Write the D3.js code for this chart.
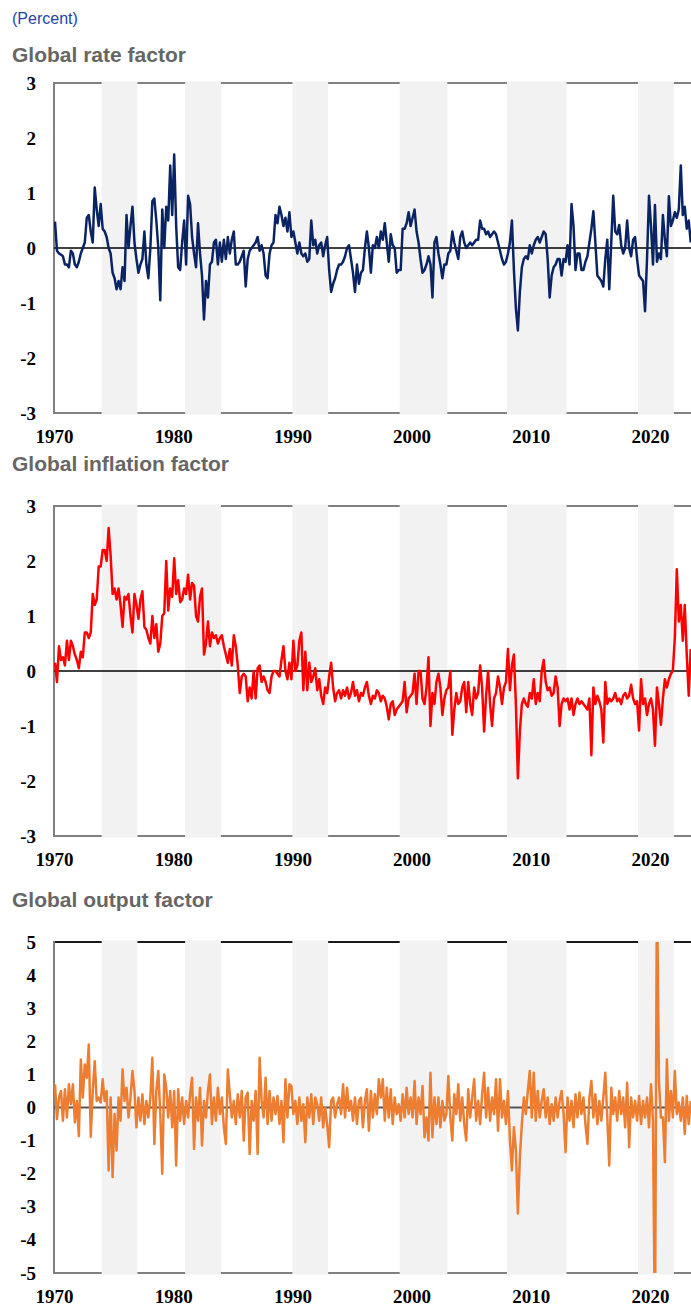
<!DOCTYPE html>
<html><head><meta charset="utf-8">
<script src="https://cdn.jsdelivr.net/npm/d3@7"></script>
<style>body{margin:0;background:#fff}svg{display:block}</style>
</head><body><svg id="c" width="691" height="1306"></svg>
<script>
// bimonthly observations, starting Jan-Feb 1970 (six per year)
const rateValues = [
 0.48,-0.05,-0.1,-0.12,-0.15,-0.3,
 -0.3,-0.35,-0.05,-0.1,-0.3,-0.35,
 -0.25,-0.1,0.0,0.1,0.55,0.6,
 0.3,0.1,1.1,0.7,0.4,0.8,
 0.35,0.3,0.2,0.0,-0.1,-0.45,
 -0.55,-0.75,-0.6,-0.75,-0.35,-0.6,
 0.6,0.0,0.4,0.75,0.1,-0.2,
 -0.45,-0.3,-0.2,0.3,-0.3,-0.55,
 0.0,0.85,0.9,0.5,0.0,-0.95,
 0.7,0.0,0.75,0.5,1.5,0.6,
 1.7,0.4,-0.35,-0.4,0.1,0.5,
 -0.3,0.95,0.8,0.2,-0.1,-0.35,
 0.45,-0.1,-0.5,-1.3,-0.6,-0.9,
 -0.3,-0.25,0.1,0.15,-0.3,0.1,
 -0.25,0.15,-0.2,0.2,-0.1,0.15,
 0.3,-0.3,-0.3,-0.25,-0.15,-0.05,
 -0.7,-0.2,-0.05,0.0,0.05,0.1,
 0.2,-0.05,0.05,-0.1,-0.5,-0.55,
 -0.1,0.05,0.1,0.6,0.45,0.75,
 0.6,0.4,0.55,0.3,0.65,0.2,
 0.3,0.1,-0.1,0.1,-0.1,-0.15,
 -0.1,-0.25,-0.2,0.5,0.05,0.15,
 -0.1,0.05,0.1,-0.15,0.05,0.2,
 -0.4,-0.8,-0.65,-0.55,-0.4,-0.3,
 -0.3,-0.25,-0.15,0.0,0.05,-0.2,
 -0.45,-0.8,-0.3,-0.65,-0.45,-0.4,
 0.0,0.3,0.0,-0.45,0.05,0.0,
 0.2,0.0,0.3,0.15,0.45,0.1,
 -0.25,0.25,0.05,0.0,-0.45,-0.4,
 -0.4,0.35,0.35,0.45,0.65,0.4,
 0.55,0.7,0.3,0.1,-0.2,-0.45,
 -0.4,-0.3,-0.15,-0.3,-0.9,0.1,
 0.2,-0.1,-0.3,-0.55,-0.3,-0.3,
 -0.1,-0.05,0.3,0.1,-0.05,-0.2,
 0.2,0.3,0.1,0.0,0.05,0.1,
 0.05,0.1,0.15,0.15,0.5,0.35,
 0.35,0.25,0.3,0.2,0.25,0.3,
 0.25,0.1,-0.05,-0.2,-0.3,-0.25,
 -0.1,0.1,0.5,-0.4,-1.1,-1.5,
 -0.8,-0.35,-0.2,-0.15,-0.2,0.05,
 -0.1,0.05,0.15,0.2,0.1,0.2,
 0.3,0.25,-0.2,-0.9,-0.5,-0.35,
 -0.3,-0.2,-0.2,-0.5,-0.2,-0.25,
 0.05,-0.3,0.8,0.4,-0.4,-0.1,
 -0.1,-0.4,-0.4,-0.25,-0.15,0.1,
 0.35,0.67,0.1,-0.5,-0.55,-0.6,
 -0.7,-0.2,0.15,-0.75,0.1,0.95,
 0.3,0.25,0.42,0.05,-0.1,0.0,
 0.5,0.0,-0.15,0.15,0.2,-0.2,
 -0.5,-0.55,-0.6,-1.15,-0.2,0.95,
 0.4,-0.3,0.78,-0.25,-0.1,-0.2,
 0.6,0.15,-0.15,0.94,0.4,0.5,
 0.65,0.55,0.7,1.5,0.6,0.75,
 0.35,0.5,0.1
];
const inflationValues = [
 0.15,-0.2,0.45,0.2,0.25,0.1,
 0.55,0.2,0.55,0.45,0.3,0.2,
 0.05,0.35,0.25,0.7,0.7,0.6,
 0.7,1.4,1.2,1.3,1.9,1.9,
 2.2,2.2,2.0,2.6,2.1,1.4,
 1.5,1.3,1.5,1.2,0.8,1.35,
 1.3,1.4,1.0,0.7,1.4,1.2,
 0.95,1.3,1.45,0.8,0.75,0.6,
 0.5,1.0,0.6,0.85,0.35,0.5,
 1.0,1.05,2.0,1.1,1.5,1.35,
 2.05,1.4,1.65,1.25,1.3,1.5,
 1.4,1.75,1.3,1.6,1.55,1.0,
 0.9,1.35,1.5,0.3,0.5,0.9,
 0.45,0.7,0.6,0.65,0.5,0.6,
 0.65,0.45,0.3,0.15,0.4,0.1,
 0.65,0.45,0.1,-0.4,-0.1,-0.05,
 -0.1,-0.55,-0.3,-0.5,0.0,-0.5,
 0.05,0.1,-0.2,-0.1,-0.2,-0.35,
 -0.4,-0.1,0.0,0.0,-0.05,-0.1,
 0.2,0.45,0.0,-0.15,0.15,-0.15,
 0.55,0.0,0.1,0.55,0.7,-0.35,
 0.35,-0.35,0.15,-0.2,-0.1,0.05,
 -0.35,-0.15,-0.45,-0.6,-0.3,-0.4,
 -0.1,0.15,-0.3,-0.55,-0.4,-0.35,
 -0.5,-0.35,-0.45,-0.3,-0.5,-0.4,
 -0.2,-0.45,-0.35,-0.55,-0.4,-0.45,
 -0.3,-0.2,-0.45,-0.6,-0.45,-0.5,
 -0.35,-0.4,-0.55,-0.45,-0.5,-0.65,
 -0.88,-0.6,-0.55,-0.8,-0.7,-0.65,
 -0.6,-0.55,-0.2,-0.75,-0.5,-0.45,
 -0.4,-0.05,-0.6,0.0,0.0,-0.5,
 -0.6,-0.3,0.25,-1.0,-0.4,-0.6,
 -0.2,-0.05,-0.3,-0.8,-0.5,-0.35,
 -0.3,0.0,-1.16,-0.7,-0.4,-0.6,
 -0.55,-0.3,-0.2,-0.75,-0.2,-0.6,
 -0.8,-0.3,-0.5,-0.4,0.1,-0.3,
 -1.1,-0.45,0.0,-0.6,-1.0,-0.5,
 -0.4,-0.1,-0.3,-0.6,-0.3,-0.2,
 0.4,-0.35,0.1,0.3,-0.6,-1.95,
 -1.1,-0.6,-0.5,-0.6,-0.65,-0.4,
 -0.5,-0.15,-0.6,-0.4,-0.55,0.0,
 0.2,-0.2,-0.35,-0.3,-0.45,-0.4,
 -0.1,-0.3,-1.0,-0.6,-0.5,-0.55,
 -0.5,-0.7,-0.5,-0.8,-0.6,-0.5,
 -0.6,-0.55,-0.6,-0.65,-0.7,-0.5,
 -1.53,-0.3,-0.6,-0.45,-0.55,-0.7,
 -1.3,-0.2,-0.6,-0.5,-0.55,-0.5,
 -0.4,-0.55,-0.5,-0.6,-0.45,-0.4,
 -0.5,-0.45,-0.25,-0.5,-0.6,-0.55,
 -1.08,-0.15,-0.6,-0.5,-0.8,-0.6,
 -0.5,-0.7,-1.36,-0.3,-0.6,-0.98,
 -0.5,-0.15,-0.3,-0.15,-0.05,0.0,
 0.6,1.85,0.9,1.2,0.55,1.2,
 0.3,-0.45,0.4
];
const outputValues = [
 0.7,-0.35,0.3,0.5,-0.4,0.55,
 -0.3,0.7,0.1,0.7,-0.45,0.2,
 -0.86,1.45,0.3,1.3,0.9,1.9,
 -0.88,0.5,1.4,0.2,0.3,0.15,
 0.85,0.2,0.5,-1.9,0.3,-2.1,
 -0.2,-1.3,0.3,-0.4,1.15,0.2,
 0.6,-0.3,0.3,1.1,0.5,-0.6,
 0.3,-0.4,0.4,-0.5,0.2,-0.3,
 0.3,1.5,-1.1,0.5,1.1,-0.2,
 -2.0,1.0,0.6,-0.3,0.5,-0.6,
 0.5,-1.75,0.55,-0.4,0.3,-0.5,
 0.2,-0.3,0.4,0.9,-1.25,0.3,
 -0.4,0.6,-1.15,0.2,-0.3,0.5,
 1.0,-0.5,0.3,-0.4,0.6,-0.2,
 0.3,-0.6,-1.1,1.15,0.4,-0.3,
 0.2,-0.5,0.4,-0.3,0.5,-1.0,
 0.3,0.45,-1.4,0.2,-0.4,0.5,
 -1.4,1.5,0.2,-0.3,0.9,-0.5,
 0.5,-0.4,0.3,-0.2,0.35,-0.5,
 0.2,-1.05,0.85,-0.3,0.7,0.65,
 -0.2,0.2,-0.5,0.3,-0.4,0.1,
 -1.05,0.3,-0.3,0.4,-0.5,0.3,
 0.1,-0.4,0.3,-0.6,0.0,-0.5,
 -1.2,0.2,0.3,-0.3,0.1,0.3,
 -0.2,0.7,-0.3,0.6,-0.1,0.2,
 -0.4,0.3,-0.5,0.2,0.3,-0.6,
 0.2,0.55,-0.7,0.5,-0.3,0.4,
 -0.2,0.85,0.3,0.85,-0.4,0.6,
 -0.3,0.55,-0.5,0.3,-0.2,0.1,
 -0.4,0.4,-0.3,0.6,-0.2,0.3,
 -0.3,0.8,-0.5,0.3,-0.2,0.65,
 -0.9,-0.3,-1.0,1.05,-0.9,0.3,
 -0.5,0.3,-0.6,0.2,-0.4,-0.2,
 0.95,-0.3,-1.0,0.4,-0.2,0.7,
 -0.4,0.3,-0.5,-1.0,0.55,-0.3,
 0.3,0.85,-0.4,0.2,-0.5,0.4,
 1.05,-0.3,0.6,-0.4,0.3,-0.2,
 0.85,-0.7,0.85,-0.3,0.2,-0.5,
 0.5,-1.0,-1.9,-0.6,-1.3,-3.2,
 -1.5,-0.5,0.3,-0.2,0.5,1.1,
 -0.3,1.05,-0.4,0.5,-0.3,0.2,
 0.55,-0.3,0.3,-0.5,0.1,-0.4,
 0.3,-0.3,0.2,0.5,-0.2,-1.35,
 0.3,-0.4,0.2,-0.6,0.4,-0.3,
 0.45,-0.2,0.3,-0.5,-1.1,0.3,
 0.8,-0.3,0.4,-0.5,0.2,-0.4,
 0.3,1.05,-0.3,-1.75,0.6,-0.2,
 0.3,-0.4,0.5,-0.2,0.3,-0.6,
 0.75,-1.2,0.3,-0.3,0.2,-0.4,
 0.35,-0.5,0.2,-0.3,0.3,-0.6,
 0.7,-0.4,-7.0,7.0,0.8,-0.3,
 -0.3,-1.65,1.45,-0.4,0.5,-0.3,
 1.1,-0.2,0.15,-0.4,0.3,-0.8,
 0.35,-0.5,0.2
];
const recessionPeriods = [[1974,1977],[1981,1984],[1990,1993],[1999,2003],[2008,2013],[2019,2022]];
const xTickYears = [1970,1980,1990,2000,2010,2020];
const rateTicks = [-3,-2,-1,0,1,2,3];
const inflationTicks = [-3,-2,-1,0,1,2,3];
const outputTicks = [-5,-4,-3,-2,-1,0,1,2,3,4,5];
const panelTitles = ["Global rate factor","Global inflation factor","Global output factor"];
const unitLabel = "(Percent)";

const svg = d3.select('#c');
svg.append('text').attr('x',12).attr('y',24)
  .style('font-family','"Liberation Sans", Arial, sans-serif').style('font-size','16px')
  .attr('fill','#2346a8').text(unitLabel);

const x = d3.scaleLinear().domain([1970, 2023.44]).range([54, 691]);
const toSeries = vals => vals.map((v,i)=>({t:1970+(i+0.5)/6, v}));

const panels = [
  {title:panelTitles[0], vals:rateValues, color:'#0a2463', domain:[-3,3], ticks:rateTicks, top:83, bottom:413, titleY:62, topColor:'#808080', zeroColor:'#000', zeroW:1.3},
  {title:panelTitles[1], vals:inflationValues, color:'#ff0000', domain:[-3,3], ticks:inflationTicks, top:506, bottom:836, titleY:471, topColor:'#808080', zeroColor:'#000', zeroW:1.3},
  {title:panelTitles[2], vals:outputValues, color:'#ed7d31', domain:[-5,5], ticks:outputTicks, top:942, bottom:1273, titleY:907, topColor:'#1a1a1a', zeroColor:'#555', zeroW:1.8}
];

panels.forEach((p,k)=>{
  const y = d3.scaleLinear().domain(p.domain).range([p.bottom, p.top]);
  const g = svg.append('g');
  g.append('text').attr('x',12).attr('y',p.titleY)
    .style('font-family','"Liberation Sans", Arial, sans-serif').style('font-size','21px').style('font-weight','bold')
    .attr('fill','#666666').text(p.title);
  // frame
  g.append('line').attr('x1',x.range()[0]).attr('x2',x.range()[1]).attr('y1',p.top).attr('y2',p.top).attr('stroke',p.topColor).attr('stroke-width',2);
  g.append('line').attr('x1',x.range()[0]).attr('x2',x.range()[1]).attr('y1',p.bottom).attr('y2',p.bottom).attr('stroke','#808080').attr('stroke-width',2);
  // recession bands
  g.selectAll('rect.band').data(recessionPeriods).join('rect').attr('class','band')
    .attr('x',d=>x(d[0])).attr('width',d=>x(d[1])-x(d[0]))
    .attr('y',p.top-1.5).attr('height',p.bottom-p.top+3).attr('fill','#f2f2f2');
  g.append('line').attr('x1',x.range()[0]).attr('x2',x.range()[0]).attr('y1',p.top-1).attr('y2',p.bottom+1).attr('stroke','#808080').attr('stroke-width',2);
  // zero line
  g.append('line').attr('x1',x.range()[0]).attr('x2',x.range()[1]).attr('y1',y(0)).attr('y2',y(0)).attr('stroke',p.zeroColor).attr('stroke-width',p.zeroW);
  // axes
  const ya = g.append('g').attr('transform','translate(36,0)')
    .call(d3.axisLeft(y).tickValues(p.ticks).tickSize(0).tickPadding(0).tickFormat(d=>String(d)));
  ya.select('.domain').remove();
  const xa = g.append('g').attr('transform',`translate(0,${p.bottom})`)
    .call(d3.axisBottom(x).tickValues(xTickYears).tickSize(0).tickPadding(16.5).tickFormat(d=>String(d)));
  xa.select('.domain').remove();
  g.selectAll('.tick text').style('font-family','"Liberation Serif", "Times New Roman", serif')
    .style('font-size','19px').style('font-weight','bold').attr('fill','#000');
  // clip + line
  const cid = 'clip'+k;
  svg.append('clipPath').attr('id',cid).append('rect')
    .attr('x',x.range()[0]).attr('y',p.top).attr('width',x.range()[1]-x.range()[0]).attr('height',p.bottom-p.top);
  const line = d3.line().x(d=>x(d.t)).y(d=>y(d.v));
  g.append('path').datum(toSeries(p.vals)).attr('clip-path',`url(#${cid})`)
    .attr('fill','none').attr('stroke',p.color).attr('stroke-width',2.5)
    .attr('stroke-linejoin','round').attr('d',line);
});
</script></body></html>
